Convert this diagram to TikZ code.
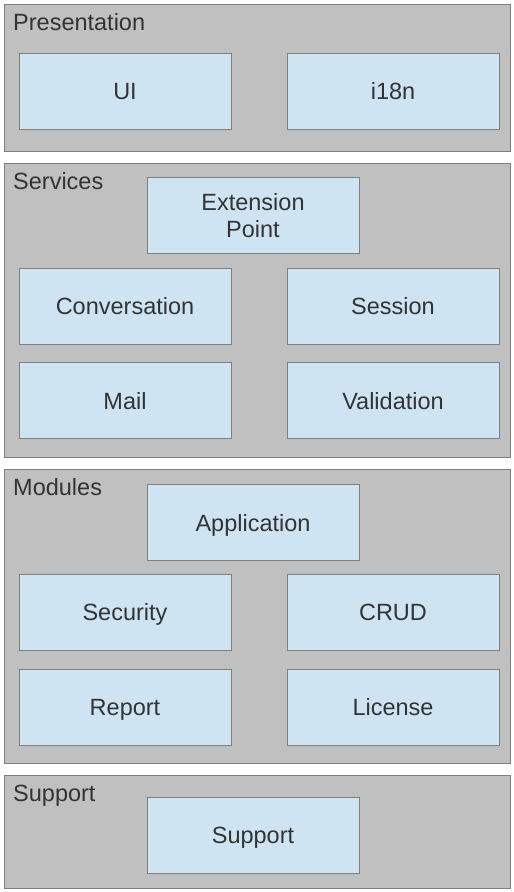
\documentclass[tikz,border=0pt]{standalone}
\usepackage{fontspec}
\setmainfont{Liberation Sans}
\usepackage{xcolor}
\usepackage{tikz}
\definecolor{layergray}{HTML}{C0C0C0}
\definecolor{edgegray}{HTML}{7F7F7F}
\definecolor{compblue}{HTML}{CFE4F3}
\definecolor{textgray}{HTML}{333333}
\tikzset{
    layer/.style={fill=layergray, draw=edgegray, line width=1pt},
    compbox/.style={rectangle, fill=compblue, draw=edgegray, line width=1pt,
        minimum width=212pt, minimum height=76pt, inner sep=0pt,
        align=center, text=textgray,
        font=\fontsize{23.5}{27}\selectfont},
    comp/.style={compbox, text height=17pt, text depth=0pt},
    layerlabel/.style={anchor=west, inner sep=0pt, text=textgray,
        text height=17pt, text depth=0pt,
        font=\fontsize{23.5}{27}\selectfont}
}

\begin{document}
\begin{tikzpicture}[x=1pt, y=-1pt]
\useasboundingbox (0,0) rectangle (514,892);

% Draw layers
\draw[layer] (4,4) rectangle (510,151);
\draw[layer] (4,163) rectangle (510,457);
\draw[layer] (4,469) rectangle (510,763.5);
\draw[layer] (4,775) rectangle (510,888);

% Layer labels
\node[layerlabel] (presentation) at (13,22) {Presentation};
\node[layerlabel] (services) at (13,181) {Services};
\node[layerlabel] (modules) at (13,487) {Modules};
\node[layerlabel] (supportlayer) at (13,793) {Support};

% Presentation
\node[comp] (ui) at (125,91) {UI};
\node[comp] (i18n) at (393,91) {i18n};

% Services
\node[compbox] (extension) at (253,215.5) {Extension\\Point};
\node[comp] (conversation) at (125,306) {Conversation};
\node[comp] (session) at (393,306) {Session};
\node[comp] (mail) at (125,400.5) {Mail};
\node[comp] (validation) at (393,400.5) {Validation};

% Modules
\node[comp] (application) at (253,522.5) {Application};
\node[comp] (security) at (125,612) {Security};
\node[comp] (crud) at (393,612) {CRUD};
\node[comp] (report) at (125,707) {Report};
\node[comp] (license) at (393,707) {License};

% Support
\node[comp] (support) at (253,835) {Support};
\end{tikzpicture}
\end{document}
